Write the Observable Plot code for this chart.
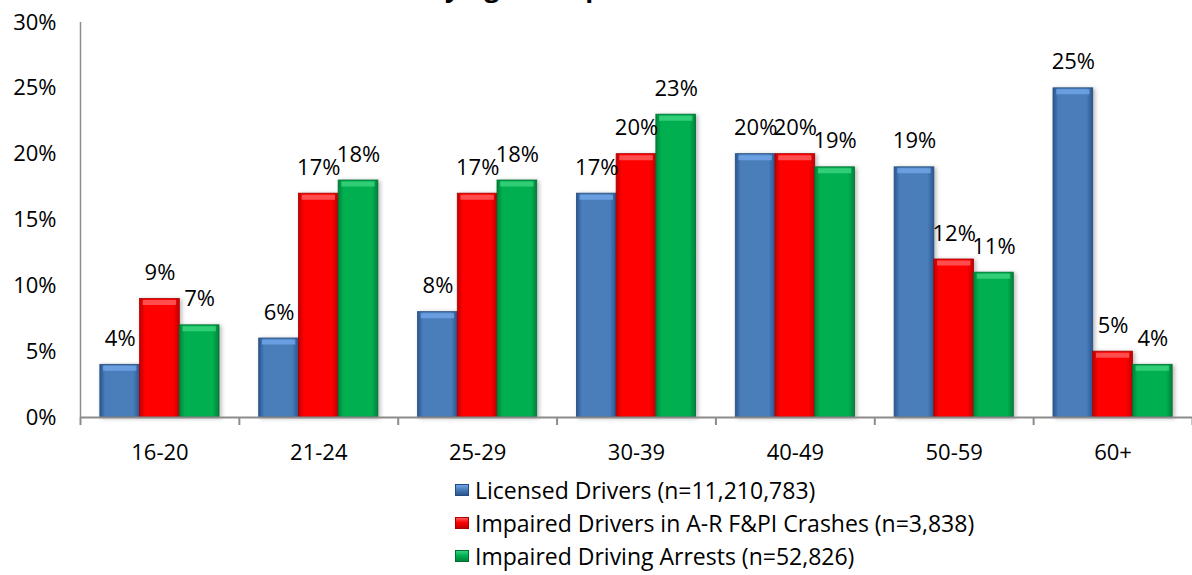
<!DOCTYPE html>
<html><head><meta charset="utf-8">
<script src="https://cdn.jsdelivr.net/npm/d3@7"></script>
<script src="https://cdn.jsdelivr.net/npm/@observablehq/plot@0.6"></script>
<style>
body{margin:0;background:#fff;font-family:"Open Sans",sans-serif;}
#wrap{position:relative;width:1192px;height:575px;overflow:hidden;background:#fff;}
#title{position:absolute;z-index:2;top:-28px;left:328px;font-weight:bold;font-size:26px;line-height:30px;white-space:nowrap;color:#000;}
#chart{position:absolute;z-index:1;top:0;left:0;}
#legend{position:absolute;z-index:2;top:473px;left:455px;font-size:23px;color:#000;}
.item{height:33px;display:flex;align-items:center;white-space:nowrap;}
.sw{width:14px;height:12px;margin-right:6px;box-sizing:border-box;}
.bars{filter:drop-shadow(2px 1px 2px rgba(0,0,0,.28));}
</style>
</head><body>
<div id="wrap">
  <div id="title">Drivers by Age Group</div>
  <div id="chart"></div>
  <div id="legend"></div>
</div>
<script>
// ---- data ----
const ageGroups = ["16-20","21-24","25-29","30-39","40-49","50-59","60+"];
const seriesNames = [
  "Licensed Drivers (n=11,210,783)",
  "Impaired Drivers in A-R F&PI Crashes (n=3,838)",
  "Impaired Driving Arrests (n=52,826)"
];
const licensed = [4, 6, 8, 17, 20, 19, 25];
const impaired = [9, 17, 17, 20, 20, 12, 5];
const arrests  = [7, 18, 18, 23, 19, 11, 4];
const yTicks = [0, 5, 10, 15, 20, 25, 30];

// ---- styles ----
const mainCol = ["#4a7ebb", "#ff0000", "#00b050"];
const darkCol = ["#2a5690", "#c00000", "#00843a"];
const liteCol = ["#6fa3e6", "#ff5a5a", "#3ad27e"];
const edgeCol = ["#254b7d", "#a80000", "#006e30"];
const gradIds = ["gBlue", "gRed", "gGreen"];
const groupPad = 0.125, barW = 0.25;

const seriesValues = [licensed, impaired, arrests];
const rows = [];
ageGroups.forEach((age, gi) => {
  seriesNames.forEach((s, si) => {
    rows.push({age, gi, series: s, si, value: seriesValues[si][gi]});
  });
});
const x1 = d => d.gi + groupPad + d.si * barW;
const x2 = d => d.gi + groupPad + (d.si + 1) * barW;
const xc = d => d.gi + groupPad + (d.si + 0.5) * barW;

const chart = Plot.plot({
  width: 1192, height: 470,
  marginLeft: 80, marginRight: 0, marginTop: 22, marginBottom: 53,
  x: {domain: [0, ageGroups.length], axis: null},
  y: {domain: [0, 30], axis: null},
  color: {domain: seriesNames, range: gradIds.map(g => `url(#${g})`)},
  style: {fontFamily: "Open Sans", fontSize: "22px", color: "#000", background: "transparent", overflow: "visible"},
  marks: [
    Plot.rectY(rows, {x1, x2, y1: 0, y2: "value", fill: "series", stroke: d => edgeCol[d.si], strokeWidth: 0.8, className: "bars"}),
    Plot.ruleY(rows, {x1: d => x1(d) + 0.02, x2: d => x2(d) - 0.02, y: "value", dy: 3.5, stroke: d => liteCol[d.si], strokeWidth: 5, strokeOpacity: 0.85}),
    Plot.text(rows, {x: xc, y: "value", text: d => d.value + "%", lineAnchor: "bottom", dy: -19, fontSize: 22, fill: "#000"}),
    Plot.ruleX([0], {y1: 0, y2: 30, stroke: "#8c8c8c", strokeWidth: 1.5}),
    Plot.axisX({ticks: d3.range(0, ageGroups.length + 1), tickFormat: () => "", tickSize: 8, stroke: "#8c8c8c", strokeWidth: 2, label: null}),
    Plot.ruleY([0], {stroke: "#8c8c8c", strokeWidth: 2}),
    Plot.axisX({ticks: ageGroups.map((d, i) => i + 0.5), tickFormat: t => ageGroups[Math.floor(t)], tickSize: 0, tickPadding: 27, fontSize: 22, label: null}),
    Plot.axisY({ticks: yTicks, tickFormat: d => d + "%", tickSize: 0, tickPadding: 24, fontSize: 22, label: null})
  ]
});

// gradients
const defs = d3.select(chart).insert("defs", ":first-child");
gradIds.forEach((id, i) => {
  const g = defs.append("linearGradient").attr("id", id).attr("x1", "0").attr("x2", "1").attr("y1", "0").attr("y2", "0");
  g.append("stop").attr("offset", "0%").attr("stop-color", darkCol[i]);
  g.append("stop").attr("offset", "14%").attr("stop-color", mainCol[i]);
  g.append("stop").attr("offset", "84%").attr("stop-color", mainCol[i]);
  g.append("stop").attr("offset", "100%").attr("stop-color", darkCol[i]);
});
document.getElementById("chart").appendChild(chart);

// legend
const leg = d3.select("#legend");
seriesNames.forEach((s, i) => {
  const it = leg.append("div").attr("class", "item");
  it.append("div").attr("class", "sw")
    .style("background", `linear-gradient(to bottom, ${liteCol[i]} 0%, ${mainCol[i]} 45%, ${darkCol[i]} 100%)`)
    .style("border", `1px solid ${edgeCol[i]}`);
  it.append("span").text(s);
});
</script>
</body></html>
